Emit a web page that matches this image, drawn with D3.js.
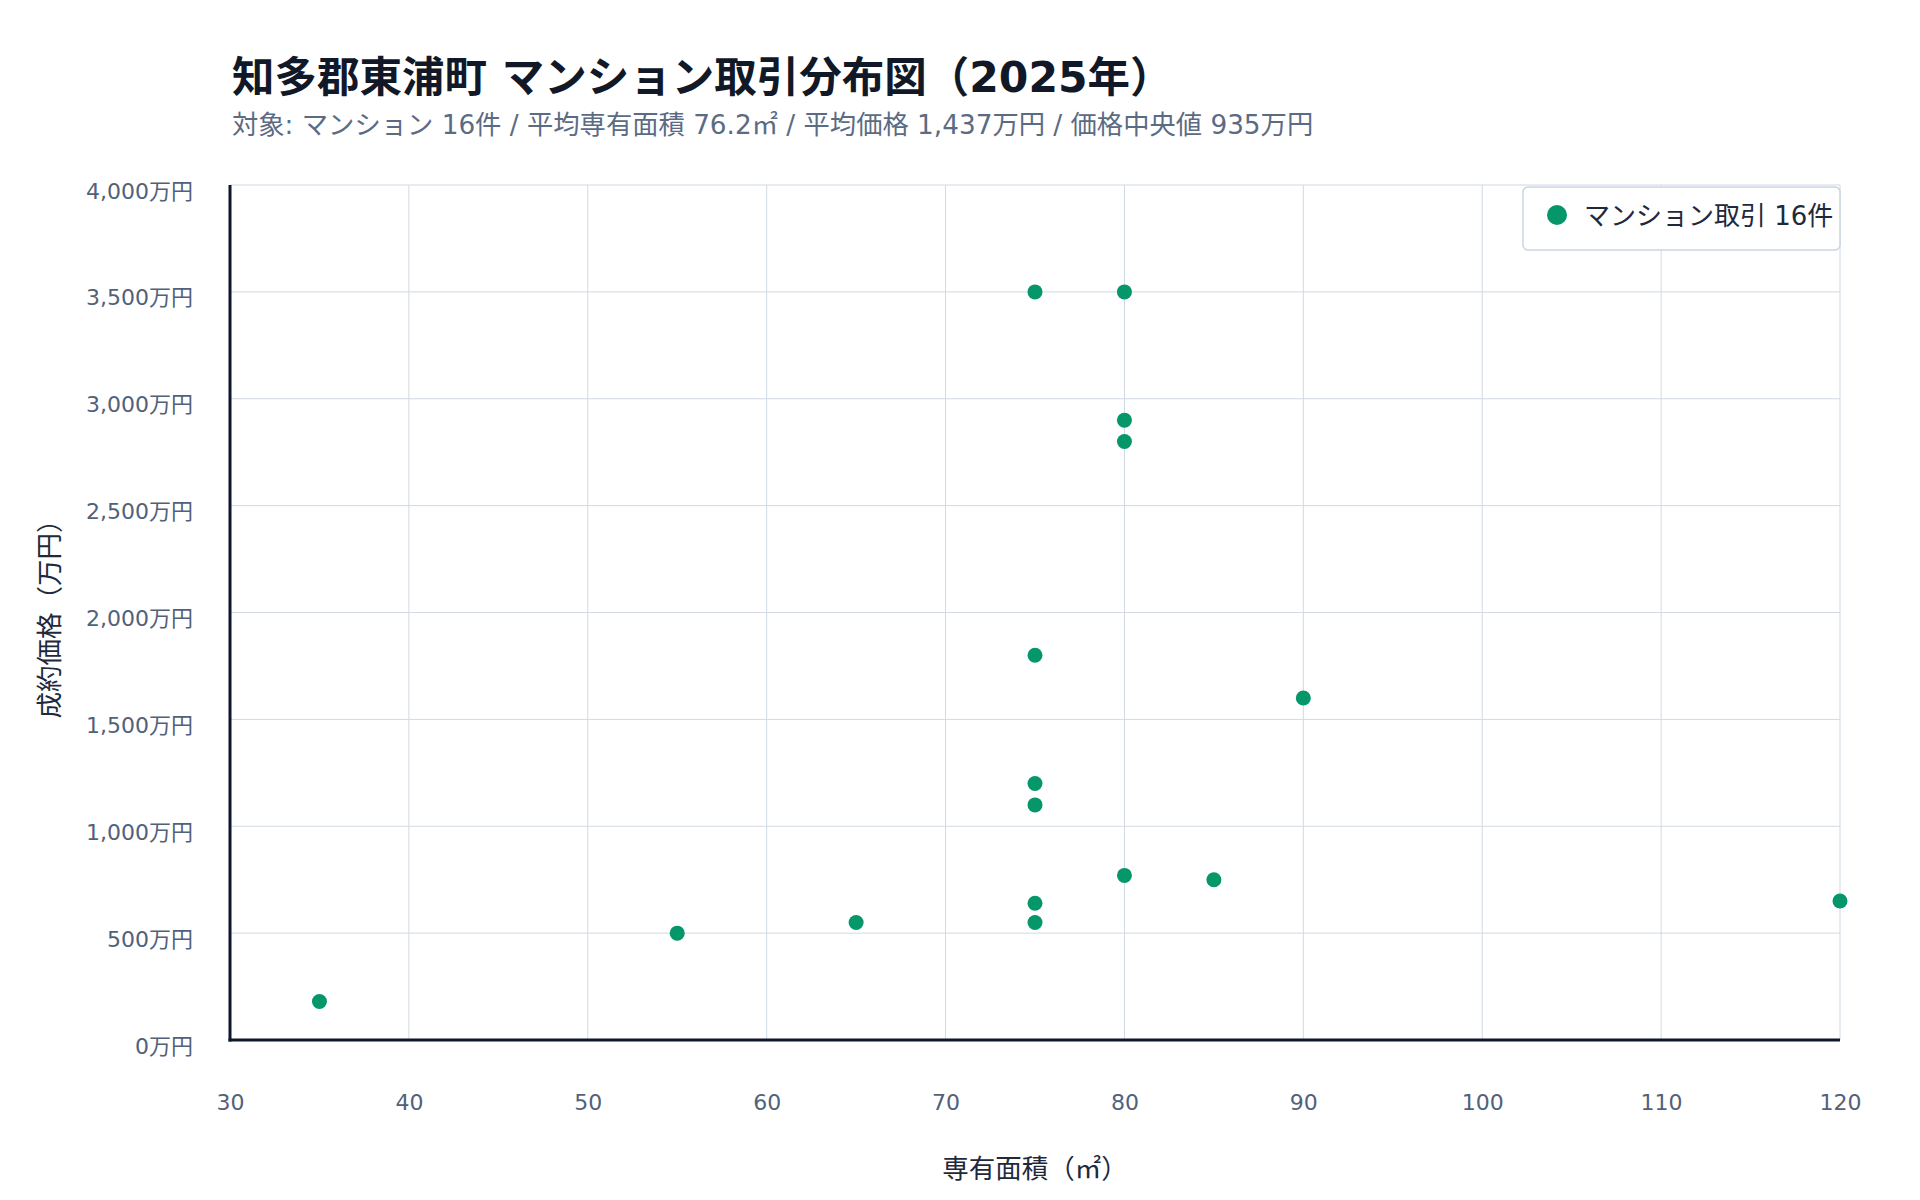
<!DOCTYPE html>
<html><head><meta charset="utf-8">
<script src="https://cdn.jsdelivr.net/npm/d3@7"></script>
<style>
html,body{margin:0;padding:0;background:#fff;}
svg{display:block;font-family:"DejaVu Sans","Noto Sans CJK JP",sans-serif;}
</style></head>
<body>
<svg id="chart" width="1920" height="1200"></svg>
<script>
const titleText = "知多郡東浦町 マンション取引分布図（2025年）";
const subtitleText = "対象: マンション 16件 / 平均専有面積 76.2㎡ / 平均価格 1,437万円 / 価格中央値 935万円";
const xAxisTitle = "専有面積（㎡）";
const yAxisTitle = "成約価格（万円）";
const legendLabel = "マンション取引 16件";

const areas  = [75, 80, 80, 80, 75, 90, 75, 75, 80, 85, 120, 75, 75, 65, 55, 35];
const prices = [3500, 3500, 2900, 2800, 1800, 1600, 1200, 1100, 770, 750, 650, 640, 550, 550, 500, 180];
const xTicks = [30, 40, 50, 60, 70, 80, 90, 100, 110, 120];
const yTicks = [0, 500, 1000, 1500, 2000, 2500, 3000, 3500, 4000];

const svg = d3.select("#chart");
const L = 230, R = 1840, T = 185, B = 1040;
const x = d3.scaleLinear().domain([30, 120]).range([L, R]);
const y = d3.scaleLinear().domain([0, 4000]).range([B, T]);

// grid
const g = svg.append("g");
g.selectAll(".vg").data(xTicks.filter(d => d > 30)).join("line")
  .attr("x1", d => x(d)).attr("x2", d => x(d)).attr("y1", T).attr("y2", B)
  .attr("stroke", "#d0d9e4").attr("stroke-width", 1);
g.selectAll(".hg").data(yTicks.filter(d => d > 0)).join("line")
  .attr("x1", L).attr("x2", R).attr("y1", d => y(d)).attr("y2", d => y(d))
  .attr("stroke", "#d0d9e4").attr("stroke-width", 1);

// axes
const xAxis = d3.axisBottom(x).tickValues(xTicks).tickSize(0).tickPadding(0).tickFormat(d3.format("d"));
const yAxis = d3.axisLeft(y).tickValues(yTicks).tickSize(0).tickPadding(0).tickFormat(d => d3.format(",")(d) + "万円");

const gx = svg.append("g").attr("transform", `translate(0,${B})`).call(xAxis);
gx.select(".domain").remove();
gx.selectAll("text").attr("y", 70).attr("dy", null).attr("fill", "#52617a")
  .style("font-size", "22px").style("font-family", '"DejaVu Sans","Noto Sans CJK JP",sans-serif');

const gy = svg.append("g").attr("transform", `translate(${L},0)`).call(yAxis);
gy.select(".domain").remove();
gy.selectAll("text").attr("x", -37).attr("dy", "13px").attr("fill", "#52617a")
  .style("font-size", "22px").style("font-family", '"DejaVu Sans","Noto Sans CJK JP",sans-serif');

// axis lines
svg.append("line").attr("x1", L).attr("x2", L).attr("y1", T).attr("y2", B + 1.5)
  .attr("stroke", "#0f172a").attr("stroke-width", 3);
svg.append("line").attr("x1", L - 1.5).attr("x2", R).attr("y1", B).attr("y2", B)
  .attr("stroke", "#0f172a").attr("stroke-width", 3);

// points
const pts = areas.map((a, i) => ({a, p: prices[i]}));
svg.append("g").selectAll("circle").data(pts).join("circle")
  .attr("cx", d => x(d.a)).attr("cy", d => y(d.p)).attr("r", 7.5)
  .attr("fill", "#059669");

// titles
svg.append("text").attr("x", 232).attr("y", 92).text(titleText)
  .attr("fill", "#111827").style("font-size", "42.5px").style("font-weight", "bold");
svg.append("text").attr("x", 232).attr("y", 134).text(subtitleText)
  .attr("fill", "#5b6b84").style("font-size", "26.3px");

svg.append("text").attr("x", (L + R) / 2).attr("y", 1178).attr("text-anchor", "middle")
  .text(xAxisTitle).attr("fill", "#1e293b").style("font-size", "26.5px");
svg.append("text").attr("transform", `translate(59,${(T + B) / 2}) rotate(-90)`)
  .attr("text-anchor", "middle").text(yAxisTitle).attr("fill", "#1e293b").style("font-size", "26.5px");

// legend
const lg = svg.append("g");
lg.append("rect").attr("x", 1523).attr("y", 187).attr("width", 317).attr("height", 63)
  .attr("rx", 5).attr("fill", "#fff").attr("stroke", "#cbd5e1").attr("stroke-width", 1.5);
lg.append("circle").attr("cx", 1557).attr("cy", 215).attr("r", 10).attr("fill", "#059669");
lg.append("text").attr("x", 1584).attr("y", 225).text(legendLabel)
  .attr("fill", "#1e293b").style("font-size", "26px");
</script>
</body></html>
